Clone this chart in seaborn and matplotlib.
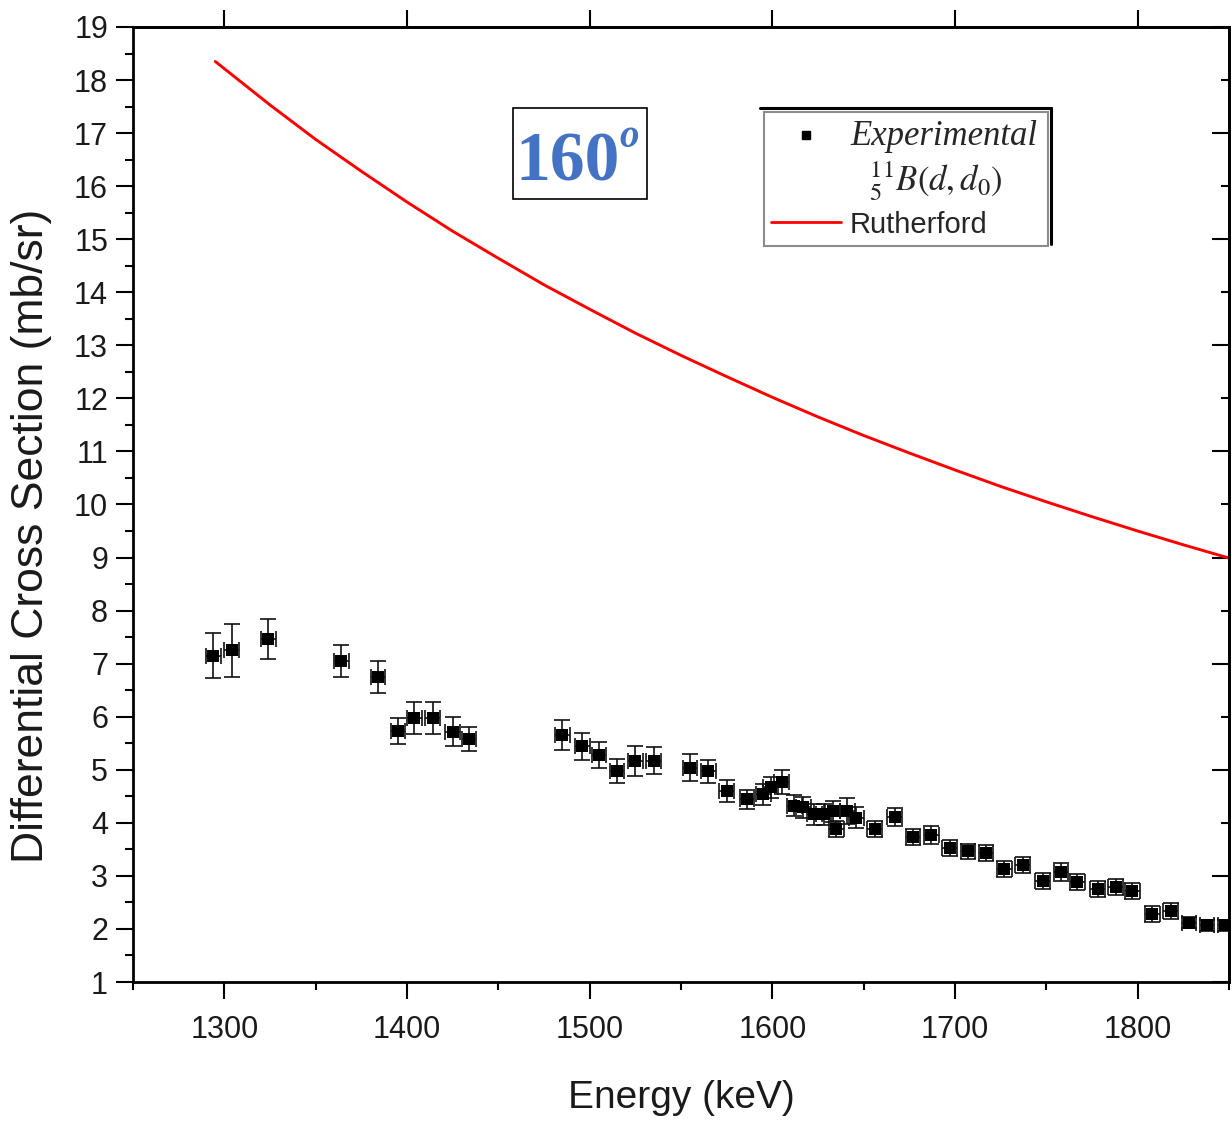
import matplotlib
matplotlib.use("Agg")
import matplotlib.pyplot as plt
import seaborn as sns
import pandas as pd
from matplotlib.ticker import MultipleLocator
from matplotlib.lines import Line2D
from matplotlib.patches import Rectangle

# Measured 11B(d,d0) differential cross section at 160 degrees
exp_energy = [1294, 1304, 1324, 1364, 1384, 1395, 1404, 1414, 1425, 1434,
              1485, 1496, 1505, 1515, 1525, 1535, 1555, 1565, 1575, 1586,
              1595, 1599, 1605, 1612, 1617, 1623, 1628, 1633, 1635, 1641,
              1646, 1656, 1667, 1677, 1687, 1697, 1707, 1717, 1727, 1737,
              1748, 1758, 1767, 1778, 1788, 1797, 1808, 1818, 1828, 1838, 1848]
exp_xs = [7.15, 7.25, 7.47, 7.05, 6.75, 5.73, 5.97, 5.97, 5.72, 5.58,
          5.66, 5.44, 5.28, 4.98, 5.17, 5.17, 5.04, 4.97, 4.60, 4.44,
          4.54, 4.67, 4.77, 4.32, 4.29, 4.16, 4.16, 4.22, 3.88, 4.22,
          4.10, 3.88, 4.11, 3.74, 3.77, 3.52, 3.46, 3.43, 3.13, 3.21,
          2.91, 3.08, 2.89, 2.75, 2.79, 2.72, 2.28, 2.33, 2.12, 2.07, 2.07]
exp_err = [0.42, 0.50, 0.38, 0.30, 0.30, 0.25, 0.30, 0.30, 0.28, 0.22,
           0.28, 0.25, 0.25, 0.22, 0.28, 0.25, 0.25, 0.22, 0.20, 0.18,
           0.20, 0.20, 0.22, 0.20, 0.20, 0.20, 0.20, 0.20, 0.15, 0.25,
           0.20, 0.15, 0.17, 0.15, 0.17, 0.15, 0.15, 0.15, 0.15, 0.15,
           0.15, 0.17, 0.15, 0.15, 0.15, 0.15, 0.15, 0.15, 0.10, 0.10, 0.10]
energy_spread = 4  # keV, horizontal error bar half-width

# Rutherford cross section over the same energy range
ruth_energy = [1295, 1325, 1350, 1375, 1400, 1425, 1450, 1475, 1500, 1525,
               1550, 1575, 1600, 1625, 1650, 1675, 1700, 1725, 1750, 1775,
               1800, 1825, 1850]
ruth_xs = [18.35, 17.53, 16.88, 16.28, 15.70, 15.15, 14.64, 14.14, 13.68, 13.23,
           12.81, 12.41, 12.02, 11.65, 11.30, 10.97, 10.65, 10.34, 10.05, 9.77,
           9.50, 9.24, 8.99]

sns.set_theme(style="ticks")
plt.rcParams["font.family"] = ["Liberation Sans", "DejaVu Sans"]
plt.rcParams["mathtext.fontset"] = "stix"
plt.rcParams["axes.edgecolor"] = "black"
plt.rcParams["xtick.color"] = "black"
plt.rcParams["ytick.color"] = "black"

fig = plt.figure(figsize=(12.32, 11.29), dpi=100)
ax = fig.add_axes([0.108, 0.1302, 0.8896, 0.8459])

ruth = pd.DataFrame({"E": ruth_energy, "xs": ruth_xs})
sns.lineplot(data=ruth, x="E", y="xs", color="#ff0000", lw=2.1, ax=ax, legend=False)

ax.errorbar(exp_energy, exp_xs, yerr=exp_err, xerr=energy_spread, fmt="none",
            ecolor="#111111", elinewidth=1.2, capsize=5.5, capthick=1.2, zorder=3)
exp = pd.DataFrame({"E": exp_energy, "xs": exp_xs})
sns.scatterplot(data=exp, x="E", y="xs", marker="s", s=74, color="black",
                edgecolor="black", linewidth=0, ax=ax, zorder=4, legend=False)

ax.set_xlim(1250, 1850)
ax.set_ylim(1, 19)
ax.xaxis.set_major_locator(MultipleLocator(100))
ax.xaxis.set_minor_locator(MultipleLocator(50))
ax.yaxis.set_major_locator(MultipleLocator(1))
ax.yaxis.set_minor_locator(MultipleLocator(0.5))
ax.tick_params(which="major", direction="out", length=12, width=1.5,
               labelsize=22, labelcolor="#1a1a1a")
ax.tick_params(which="minor", direction="out", length=6, width=1.5)
ax.tick_params(axis="x", pad=12)
ax.tick_params(axis="y", pad=6)
for sp in ax.spines.values():
    sp.set_linewidth(2)
    sp.set_color("black")

top = ax.secondary_xaxis("top")
top.xaxis.set_major_locator(MultipleLocator(100))
top.tick_params(direction="out", length=12, width=1.5, labeltop=False)
top.spines["top"].set_linewidth(2)

right = ax.secondary_yaxis("right")
right.yaxis.set_major_locator(MultipleLocator(2, offset=1))
right.yaxis.set_minor_locator(MultipleLocator(2))
right.tick_params(which="major", direction="in", length=12, width=1.5, labelright=False)
right.tick_params(which="minor", direction="in", length=6, width=1.5, labelright=False)
right.spines["right"].set_linewidth(2)

ax.set_xlabel("Energy (keV)", fontsize=28, color="#1a1a1a")
ax.set_ylabel("Differential Cross Section (mb/sr)", fontsize=32, color="#1a1a1a")
ax.xaxis.set_label_coords(0.5, -0.103)
ax.yaxis.set_label_coords(-0.074, 0.467)

# Angle tag
ax.add_patch(Rectangle((0.347, 0.820), 0.122, 0.095, transform=ax.transAxes,
                       facecolor="white", edgecolor="black", lw=1.2, zorder=5))
ax.text(0.349, 0.839, "160", transform=ax.transAxes, ha="left", va="baseline",
        fontsize=50, fontweight="bold", family="Liberation Serif",
        color="#4472C4", zorder=6)
ax.text(0.444, 0.874, "o", transform=ax.transAxes, ha="left", va="baseline",
        fontsize=28, fontweight="bold", fontstyle="italic", family="Liberation Serif",
        color="#4472C4", zorder=6)

# Legend
handles = [Line2D([], [], marker="s", ls="none", color="black", ms=6),
           Line2D([], [], ls="none"),
           Line2D([], [], color="#ff0000", lw=2)]
labels = ["Experimental", r"  $^{11}_{5}B(d,d_0)$", "Rutherford"]
leg = ax.legend(handles, labels, loc="upper left",
                bbox_to_anchor=(0.5757, 0.776, 0.259, 0.1345), mode="expand",
                borderaxespad=0, fancybox=False, framealpha=1, edgecolor="#8c8c8c",
                fontsize=21, handlelength=2.4, handletextpad=0.3,
                labelspacing=0.25, borderpad=0.25)
leg.get_frame().set_linewidth(1.5)
leg.set_zorder(6)
t = leg.get_texts()
t[0].set_fontfamily("Liberation Serif")
t[0].set_fontstyle("italic")
t[0].set_fontsize(25)
t[1].set_fontsize(25)
ax.plot([0.572, 0.8376], [0.9152, 0.9152], transform=ax.transAxes,
        color="black", lw=2.2, clip_on=False, zorder=7)
ax.plot([0.8376, 0.8376], [0.9152, 0.7728], transform=ax.transAxes,
        color="black", lw=2.2, clip_on=False, zorder=7)

fig.savefig("out.png", dpi=100)
